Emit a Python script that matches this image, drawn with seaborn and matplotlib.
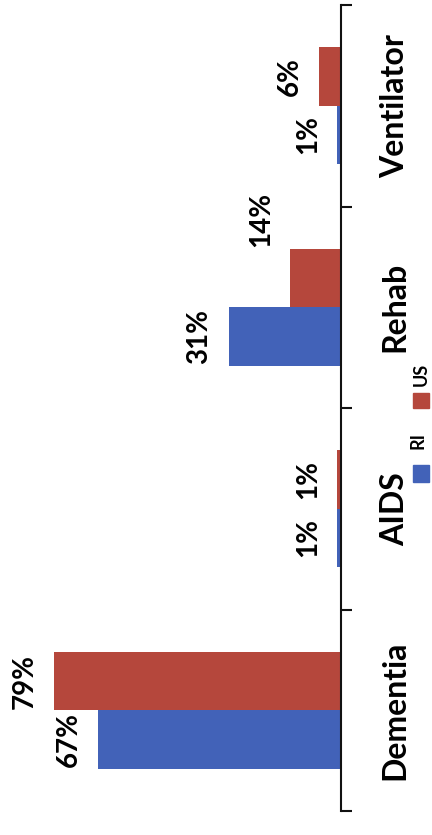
import matplotlib
matplotlib.use("Agg")
import matplotlib.pyplot as plt
import seaborn as sns
import pandas as pd
from matplotlib.patches import Rectangle

# Dados (que esta girado 90 graus)
categorias = ['Ventilator', 'Rehab', 'AIDS', 'Dementia']
ri = [1, 31, 1, 67]
us = [6, 14, 1, 79]
series = ['US', 'RI']
cores = {'RI': '#4262b8', 'US': '#b5473c'}

valores = {'US': us, 'RI': ri}
df = pd.DataFrame({
    'categoria': categorias * 2,
    'serie': ['US'] * len(us) + ['RI'] * len(ri),
    'valor': us + ri,
})

sns.set_style('white')
plt.rcParams['font.family'] = ['Lato', 'DejaVu Sans']
plt.rcParams['text.color'] = 'black'
plt.rcParams['ytick.color'] = 'black'

W, H = 432, 835
fig = plt.figure(figsize=(W / 100, H / 100), dpi=100)
ax = fig.add_axes([0, 24 / H, 341 / W, 806 / H])

sns.barplot(data=df, y='categoria', x='valor', hue='serie', order=categorias,
            hue_order=series, palette=cores, width=0.58, orient='h',
            saturation=1, linewidth=0, legend=False, ax=ax)

ax.set_xlim(94, 0)
ax.set_ylim(3.5, -0.5)
ax.set_xlabel('')
ax.set_ylabel('')
ax.set_xticks([])
for s in ['top', 'left', 'bottom']:
    ax.spines[s].set_visible(False)
ax.spines['right'].set_color('#111111')
ax.spines['right'].set_linewidth(1.5)

# eixo de categorias do lado direito
ax.yaxis.tick_right()
ax.set_yticks(range(len(categorias)), categorias)
ax.tick_params(axis='y', which='major', length=0, pad=28, labelsize=23,
               labelcolor='black')
for t in ax.get_yticklabels():
    t.set_rotation(90)
    t.set_va('center')
    t.set_fontweight('bold')
ax.set_yticks([i - 0.5 for i in range(len(categorias) + 1)], minor=True)
ax.tick_params(axis='y', which='minor', length=8, width=1.5, color='#111111',
               direction='out', right=True, left=False)

# rotulos de valor
ajuste = {('Rehab', 'US'): 42}  # o 14% fica mais acima no original
for serie, cont in zip(series, ax.containers):
    for cat, v, barra in zip(categorias, valores[serie], cont):
        y = barra.get_y() + barra.get_height() / 2
        ax.annotate(f'{v}%', (v, y), xytext=(-21, ajuste.get((cat, serie), 0)),
                    textcoords='offset points', ha='center', va='center',
                    rotation=90, fontsize=20, fontweight='bold', color='black',
                    annotation_clip=False)

# legenda girada
def px(x, y):
    return x / W, 1 - y / H

fig.patches.append(Rectangle(px(413, 482), 16 / W, 17 / H, transform=fig.transFigure,
                             color=cores['RI'], figure=fig))
fig.patches.append(Rectangle(px(413, 408), 16 / W, 15 / H, transform=fig.transFigure,
                             color=cores['US'], figure=fig))
fig.text(*px(418, 440), 'RI', rotation=90, ha='center', va='center',
         fontsize=13, fontweight='bold')
fig.text(*px(421, 374), 'US', rotation=90, ha='center', va='center',
         fontsize=13, fontweight='bold')

fig.savefig('out.png', dpi=100)
